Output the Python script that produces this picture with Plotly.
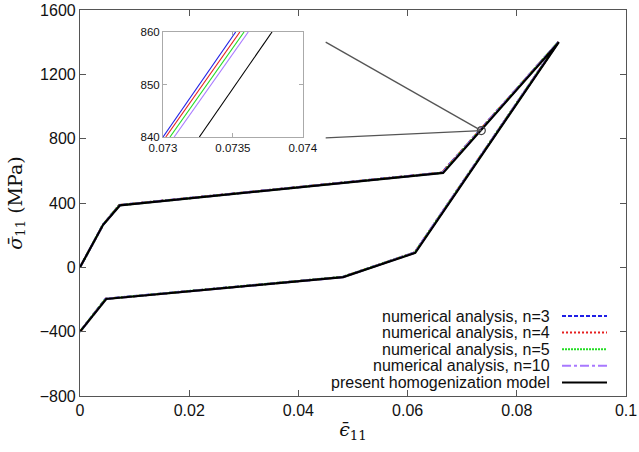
import plotly.graph_objects as go

# ---- main curves (strain, stress in MPa) ----
strain_model = [0.0, 0.0042, 0.0073, 0.0665, 0.0877, 0.0614, 0.0482, 0.0048, 0.0]
stress_model = [0, 263, 385, 587, 1400, 90, -61, -197, -400]

strain_n3 = [0.0, 0.0042, 0.0072, 0.0663, 0.0876, 0.0613, 0.0481, 0.0047, 0.0]
stress_n3 = [0, 264, 387, 589, 1400, 92, -60, -195, -400]
strain_n4 = [0.0, 0.0042, 0.0072, 0.0663, 0.0876, 0.0613, 0.0481, 0.0047, 0.0]
stress_n4 = [0, 264, 387, 589, 1400, 92, -60, -196, -400]
strain_n5 = [0.0, 0.0042, 0.0072, 0.0664, 0.0876, 0.0613, 0.0481, 0.0047, 0.0]
stress_n5 = [0, 264, 386, 588, 1400, 91, -60, -196, -400]
strain_n10 = [0.0, 0.0042, 0.0073, 0.0664, 0.0876, 0.0613, 0.0482, 0.0048, 0.0]
stress_n10 = [0, 263, 386, 588, 1400, 91, -61, -196, -400]

# ---- inset (zoom near strain 0.0735, stress 850) ----
inset_stress = [840, 860]
inset_n3 = [0.07300, 0.07352]
inset_n4 = [0.07302, 0.07355]
inset_n5 = [0.07305, 0.07358]
inset_n10 = [0.07308, 0.07361]
inset_model = [0.07326, 0.07378]

zoom_point = (0.0735, 850)
link_start_x = 0.045
link_start_y = [1400, 805]

labels = ["numerical analysis, n=3", "numerical analysis, n=4",
          "numerical analysis, n=5", "numerical analysis, n=10",
          "present homogenization model"]
colors = ["#1f1fe6", "#e61f1f", "#22dd22", "#a878ff", "#000000"]
dashes = ["4px,2px", "2px,2px", "2px,1px", "dashdot", "solid"]

x_ticks = [0, 0.02, 0.04, 0.06, 0.08, 0.1]
x_ticktext = ["0", "0.02", "0.04", "0.06", "0.08", "0.1"]
y_ticks = [-800, -400, 0, 400, 800, 1200, 1600]
inset_xticks = [0.073, 0.0735, 0.074]
inset_yticks = [840, 850, 860]

fig = go.Figure()
main_series = [(strain_n3, stress_n3), (strain_n4, stress_n4), (strain_n5, stress_n5),
               (strain_n10, stress_n10), (strain_model, stress_model)]
for (xs, ys), lab, c, d in zip(main_series, labels, colors, dashes):
    fig.add_trace(go.Scatter(x=xs, y=ys, mode="lines", name=lab,
                             line=dict(color=c, width=2.2, dash=d), showlegend=False))

inset_series = [inset_n3, inset_n4, inset_n5, inset_n10, inset_model]
for xs, c in zip(inset_series, colors):
    fig.add_trace(go.Scatter(x=xs, y=inset_stress, mode="lines", xaxis="x2", yaxis="y2",
                             line=dict(color=c, width=1.1), showlegend=False))

# zoom marker
fig.add_trace(go.Scatter(x=[zoom_point[0]], y=[zoom_point[1]], mode="markers",
                         marker=dict(symbol="circle-open", size=8, color="#444",
                                     line=dict(width=1.2)), showlegend=False))
for ys in link_start_y:
    fig.add_trace(go.Scatter(x=[link_start_x, zoom_point[0]], y=[ys, zoom_point[1]],
                             mode="lines", line=dict(color="#555", width=1.3),
                             showlegend=False))

# manual gnuplot-style legend
row0, dy = 316, 16.6
for i, (lab, c, d) in enumerate(zip(labels, colors, dashes)):
    py = (396 - (row0 + dy * i)) / 386
    fig.add_annotation(x=0.8645, y=py, xref="paper", yref="paper", text=lab,
                       showarrow=False, xanchor="right", yanchor="middle",
                       font=dict(family="Liberation Sans", size=16, color="#111"))
    fig.add_shape(type="line", xref="paper", yref="paper", x0=0.8828, x1=0.9652,
                  y0=py, y1=py, line=dict(color=c, width=2, dash=d))

axis_common = dict(showgrid=False, zeroline=False, showline=True, linecolor="#555",
                   linewidth=1.2, mirror="ticks", ticks="inside", ticklen=6,
                   tickcolor="#555", automargin=False,
                   tickfont=dict(family="Liberation Sans", size=16, color="#111"))
inset_common = dict(showgrid=False, zeroline=False, showline=True, linecolor="#aaa",
                    mirror="ticks", ticks="inside", ticklen=4, tickcolor="#aaa",
                    automargin=False,
                    tickfont=dict(family="Liberation Sans", size=11.5, color="#111"))

fig.update_layout(
    width=639, height=452,
    margin=dict(l=80, r=13, t=10, b=56),
    plot_bgcolor="white", paper_bgcolor="white",
    xaxis=dict(range=[0, 0.1], tickvals=x_ticks, ticktext=x_ticktext,
               title=dict(text="<i>ϵ̄</i><sub>11</sub>", standoff=4,
                          font=dict(family="DejaVu Serif", size=19, color="#111")),
               **axis_common),
    yaxis=dict(range=[-800, 1600], tickvals=y_ticks,
               title=dict(text="<i>σ̄</i><sub>11</sub> (MPa)", standoff=12,
                          font=dict(family="DejaVu Serif", size=19, color="#111")),
               **axis_common),
    xaxis2=dict(domain=[0.152, 0.408], anchor="y2", range=[0.073, 0.074],
                tickvals=inset_xticks, ticktext=["0.073", "0.0735", "0.074"],
                **inset_common),
    yaxis2=dict(domain=[0.671, 0.943], anchor="x2", range=[840, 860],
                tickvals=inset_yticks, **inset_common),
)

# remove the default page margin so the figure fills the window exactly
fig.write_html("out.html", config={"displayModeBar": False},
               post_script="document.body.style.margin='0';document.body.style.overflow='hidden';")
